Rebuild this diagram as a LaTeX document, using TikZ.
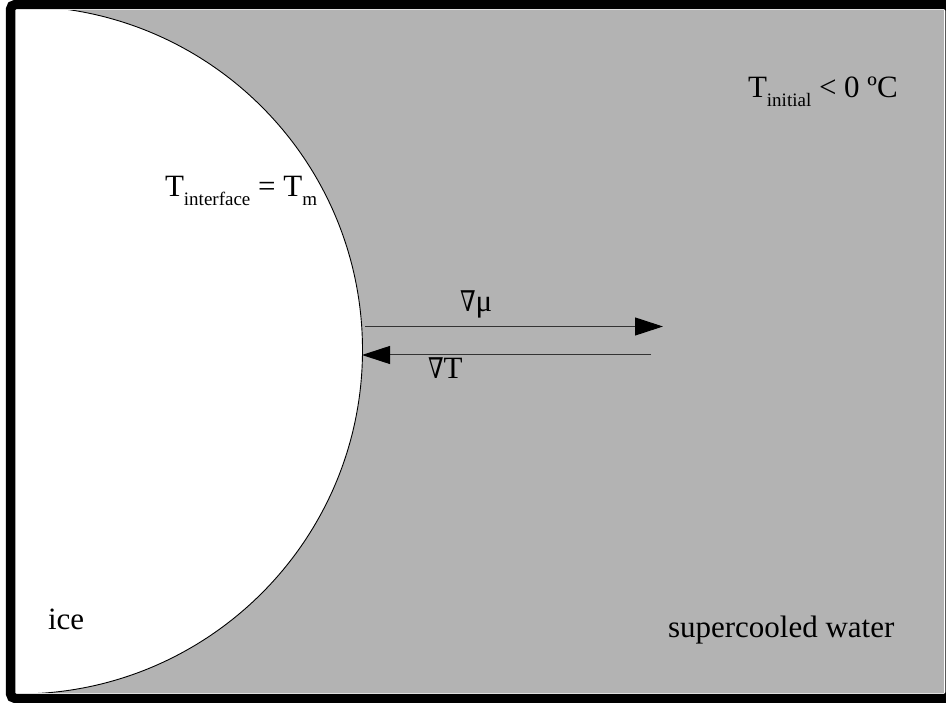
\documentclass[tikz,border=0pt]{standalone}
\usepackage{fontspec}
\setmainfont{Liberation Serif}
\newfontfamily\dvserif{DejaVu Serif}
\usetikzlibrary{arrows.meta}
\definecolor{water}{RGB}{179,179,179}
\newcommand\lowsub[1]{\raisebox{-8.5pt}{\fontsize{19}{19}\selectfont #1}}
\newcommand\nablasym{\scalebox{0.72}[0.92]{\dvserif ∇}}
\tikzset{
  lbl/.style={inner sep=0pt, outer sep=0pt, anchor=base west, font=\fontsize{31}{31}\selectfont},
  flux/.style={line width=1pt, draw=black!80, -{Triangle[length=28pt,width=18pt,color=black]}}
}
\begin{document}
\begin{tikzpicture}[x=1pt,y=-1pt]
\useasboundingbox (0,0) rectangle (946,703);
\clip (0,0) rectangle (946,703);
% water
\fill[water] (15,10.5) rectangle (944.2,692.8);
% ice
\begin{scope}
  \clip (15,10.5) rectangle (944.2,692.8);
  \fill[white] (18.5,350) circle (344);
  \draw[line width=0.9pt] (18.5,350) circle (344);
\end{scope}
% frame
\draw[line width=9.5pt, rounded corners=5pt] (10.5,4.5) rectangle (950,698.5);
% arrows
\coordinate (muA) at (365,326.5);
\coordinate (muB) at (663,326.5);
\coordinate (tA) at (651,355);
\coordinate (tB) at (362,355);
\draw[flux] (muA) -- (muB);
\draw[flux] (tA) -- (tB);
% labels
\node[lbl] (tint) at (165,197) {T\lowsub{interface} = T\lowsub{m}};
\node[lbl] (tini) at (748,98) {T\lowsub{initial} < 0 ºC};
\node[lbl] (gmu) at (460,312) {\nablasym μ};
\node[lbl] (gT) at (428,379) {\nablasym T};
\node[lbl] (ice) at (48,629) {ice};
\node[lbl] (sw) at (668,637) {supercooled water};
\end{tikzpicture}
\end{document}
